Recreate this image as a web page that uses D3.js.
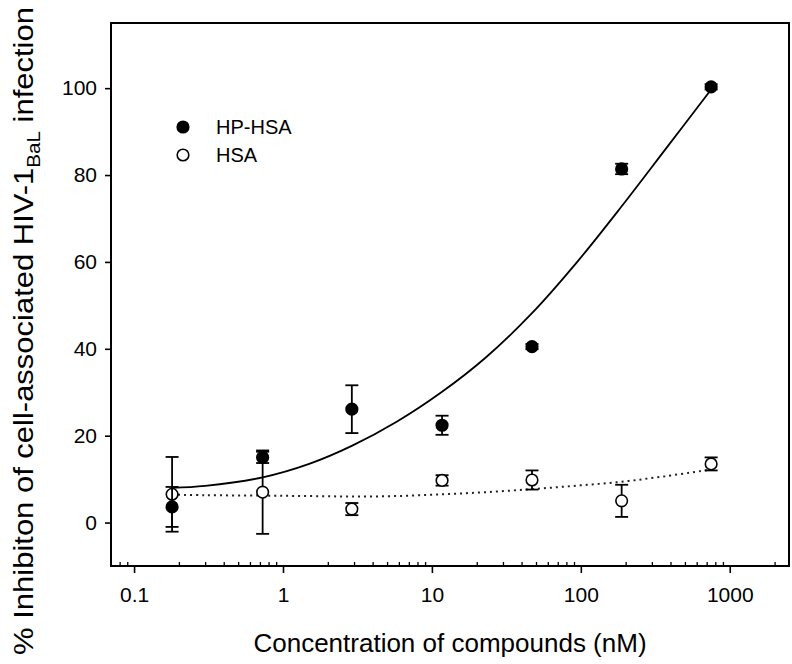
<!DOCTYPE html>
<html><head><meta charset="utf-8">
<script src="https://cdn.jsdelivr.net/npm/d3@7"></script>
<style>
html,body{margin:0;padding:0;background:#fff;}
svg{display:block;font-family:"Liberation Sans",Arial,sans-serif;}
</style></head>
<body>
<svg id="chart" width="792" height="664"></svg>
<script>
// ---- data ----
const conc = [0.18, 0.73, 2.9, 11.7, 47, 188, 750];
const hpHsa = [3.6, 15.0, 26.1, 22.4, 40.5, 81.4, 100.3];
const hpHsaErr = [4.6, 1.3, 5.5, 2.2, 0.6, 1.2, 0.6];
const hsa = [6.5, 7.0, 3.1, 9.7, 9.8, 5.0, 13.5];
const hsaErr = [8.6, 9.6, 1.4, 1.2, 2.2, 3.7, 1.5];
const fitConc = [0.18, 0.3, 0.73, 1.5, 2.92, 5.8, 11.7, 23, 47, 94, 188, 375, 750];
const fitHp = [8.0, 8.45, 10.4, 13.5, 17.7, 23.2, 30.1, 38.0, 48.2, 59.9, 72.8, 86.2, 99.7];
const fitHsa = [6.4, 6.3, 6.2, 6.1, 6.0, 6.1, 6.5, 7.0, 7.7, 8.5, 9.4, 10.7, 12.2];
const xTickValues = [0.1, 1, 10, 100, 1000];
const xTickLabels = ["0.1", "1", "10", "100", "1000"];
const yTickValues = [0, 20, 40, 60, 80, 100];
const legendNames = ["HP-HSA", "HSA"];

// ---- layout ----
const L = 111, R = 789, T = 23, B = 566;
const svg = d3.select("#chart");
const x = d3.scaleLog().domain([0.07, 2500]).range([L, R]);
const y = d3.scaleLinear().domain([-10, 115]).range([B, T]);

// frame
svg.append("rect").attr("x", L).attr("y", T).attr("width", R - L).attr("height", B - T)
  .attr("fill", "none").attr("stroke", "#000").attr("stroke-width", 2);

// x axis major ticks (outward) with labels
const xAxis = d3.axisBottom(x).tickValues(xTickValues)
  .tickFormat((d, i) => xTickLabels[i]).tickSize(7).tickPadding(14);
const gx = svg.append("g").attr("transform", `translate(0,${B})`).call(xAxis);
gx.select(".domain").remove();
gx.selectAll(".tick line").attr("stroke", "#000").attr("stroke-width", 1.6);
gx.selectAll(".tick text").attr("font-size", 21).attr("fill", "#000")
  .attr("font-family", "'Liberation Sans',Arial,sans-serif");

// x minor ticks (inward)
const minor = [];
for (let e = -2; e <= 3; e++) for (let m = 2; m <= 9; m++) {
  const v = m * Math.pow(10, e);
  if (v > 0.07 && v < 2500) minor.push(v);
}
const xMinor = d3.axisTop(x).tickValues(minor).tickSize(4).tickFormat("");
const gxm = svg.append("g").attr("transform", `translate(0,${B})`).call(xMinor);
gxm.select(".domain").remove();
gxm.selectAll(".tick line").attr("stroke", "#000").attr("stroke-width", 1.3);

// y axis
const yAxis = d3.axisLeft(y).tickValues(yTickValues).tickSize(6).tickPadding(8);
const gy = svg.append("g").attr("transform", `translate(${L},0)`).call(yAxis);
gy.select(".domain").remove();
gy.selectAll(".tick line").attr("stroke", "#000").attr("stroke-width", 1.6);
gy.selectAll(".tick text").attr("font-size", 21).attr("fill", "#000")
  .attr("font-family", "'Liberation Sans',Arial,sans-serif");

// fit curves
const line = (vals) => d3.line().x((d, i) => x(fitConc[i])).y(d => y(d)).curve(d3.curveCatmullRom.alpha(0.5))(vals);
svg.append("path").attr("d", line(fitHp)).attr("fill", "none").attr("stroke", "#000").attr("stroke-width", 1.8);
svg.append("path").attr("d", line(fitHsa)).attr("fill", "none").attr("stroke", "#222")
  .attr("stroke-width", 2).attr("stroke-dasharray", "2,4");

// error bars + points
function drawSeries(vals, errs, filled) {
  const g = svg.append("g");
  vals.forEach((v, i) => {
    const cx = x(conc[i]);
    const y1 = y(v + errs[i]), y2 = y(v - errs[i]);
    g.append("line").attr("x1", cx).attr("x2", cx).attr("y1", y1).attr("y2", y2)
      .attr("stroke", "#000").attr("stroke-width", 1.8);
    [y1, y2].forEach(yy => g.append("line").attr("x1", cx - 6.5).attr("x2", cx + 6.5)
      .attr("y1", yy).attr("y2", yy).attr("stroke", "#000").attr("stroke-width", 1.8));
  });
  vals.forEach((v, i) => {
    g.append("circle").attr("cx", x(conc[i])).attr("cy", y(v)).attr("r", 5.8)
      .attr("fill", filled ? "#000" : "#fff").attr("stroke", "#000").attr("stroke-width", 1.6);
  });
}
drawSeries(hsa, hsaErr, false);
drawSeries(hpHsa, hpHsaErr, true);

// legend
const lg = svg.append("g");
legendNames.forEach((n, i) => {
  const yy = 127 + i * 28;
  lg.append("circle").attr("cx", 183).attr("cy", yy).attr("r", 5.8)
    .attr("fill", i === 0 ? "#000" : "#fff").attr("stroke", "#000").attr("stroke-width", 1.6);
  lg.append("text").attr("x", 216).attr("y", yy).attr("dy", "0.36em")
    .attr("font-size", 20).attr("fill", "#000").text(n);
});

// axis titles
svg.append("text").attr("x", (L + R) / 2).attr("y", 652).attr("text-anchor", "middle")
  .attr("font-size", 26).attr("fill", "#000").text("Concentration of compounds (nM)");

const yt = svg.append("text").attr("text-anchor", "middle").attr("font-size", 27).attr("fill", "#000");
yt.append("tspan").text("% Inhibiton of cell-associated HIV-1");
yt.append("tspan").attr("font-size", 18).attr("dy", 7).text("BaL");
yt.append("tspan").attr("dy", -7).text(" infection");
const natural = yt.node().getComputedTextLength();
const k = Math.min(1.15, 648 / natural);
yt.attr("transform", `translate(33,331) rotate(-90) scale(${k},1)`);
</script>
</body></html>
